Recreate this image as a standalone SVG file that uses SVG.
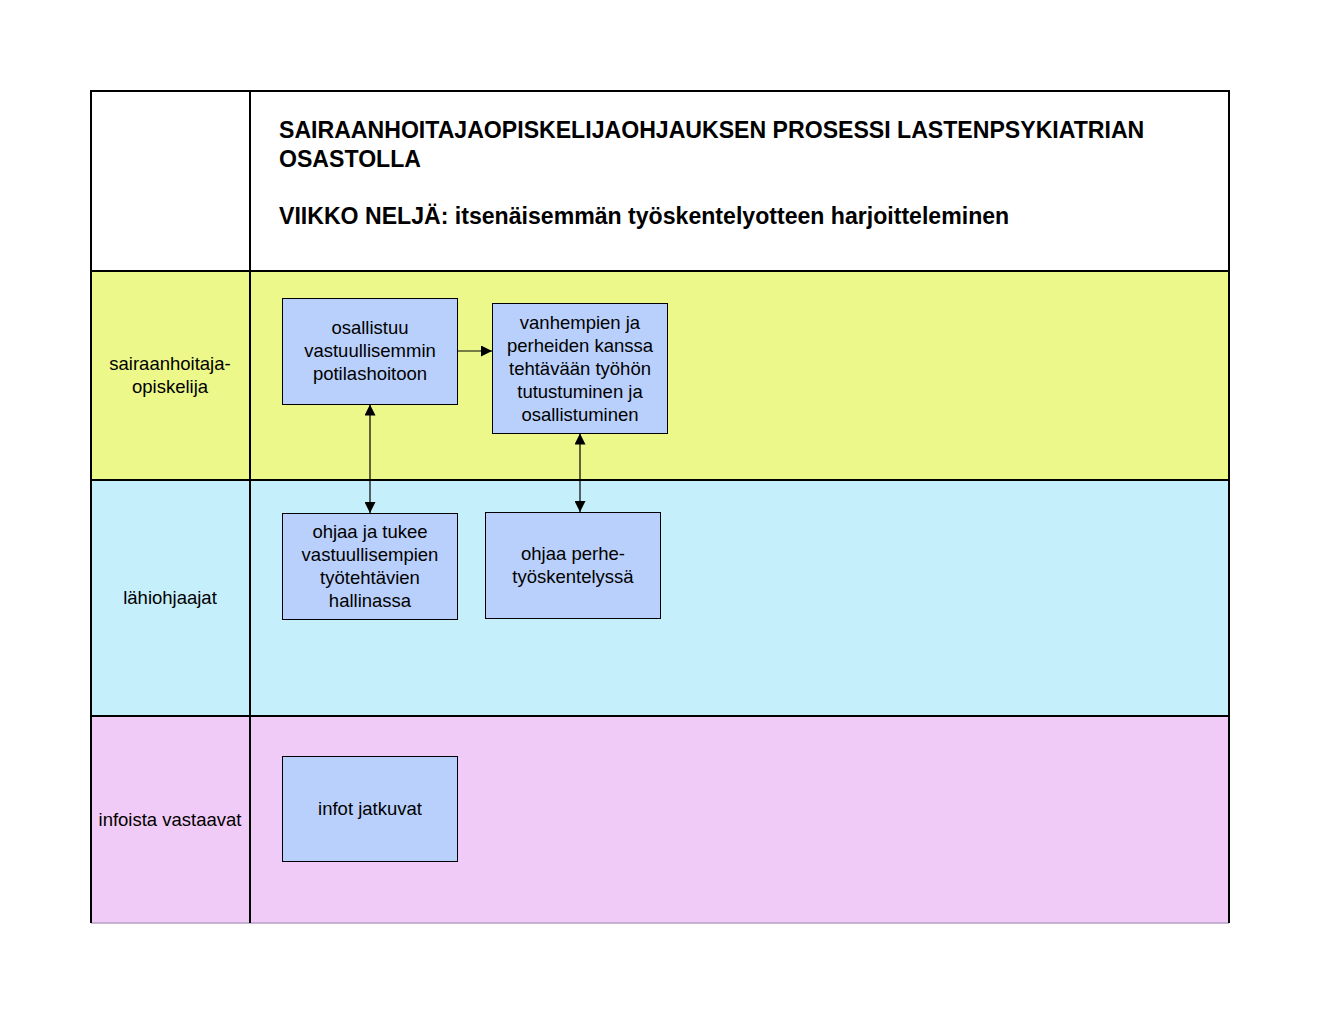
<svg xmlns="http://www.w3.org/2000/svg" width="1320" height="1020" viewBox="0 0 1320 1020">
<defs>
<style>
.t{font-family:"Liberation Sans",Arial,sans-serif;font-size:18.5px;fill:#000;text-anchor:middle}
.h{font-family:"Liberation Sans",Arial,sans-serif;font-size:23.1px;font-weight:bold;fill:#000}
.n{fill:#bad0fc;stroke:#000;stroke-width:1}
.c{stroke:#000;stroke-width:1.2;fill:none}
.g{stroke:#000;stroke-width:2;fill:none}
</style>
<marker id="ah" viewBox="0 0 10 10" refX="10" refY="5" markerWidth="11" markerHeight="11" markerUnits="userSpaceOnUse" orient="auto-start-reverse">
<path d="M0,0 L10,5 L0,10 Z" fill="#000"/>
</marker>
</defs>
<rect width="1320" height="1020" fill="#fff"/>
<g id="lanes">
<rect x="91" y="91" width="1138" height="180" fill="#fff"/>
<rect x="91" y="271" width="1138" height="209" fill="#ecf88a"/>
<rect x="91" y="480" width="1138" height="236" fill="#c5effb"/>
<rect x="91" y="716" width="1138" height="207" fill="#f1cbf7"/>
<line x1="91" y1="923" x2="1229" y2="923" stroke="#b89cc4" stroke-width="1.5"/>
<path class="g" d="M91,923 V91 H1229 V923"/>
<line class="g" x1="250" y1="91" x2="250" y2="923"/>
<line class="g" x1="91" y1="271" x2="1229" y2="271"/>
<line class="g" x1="91" y1="480" x2="1229" y2="480"/>
<line class="g" x1="91" y1="716" x2="1229" y2="716"/>
</g>
<g id="title">
<text class="h" x="279" y="138">SAIRAANHOITAJAOPISKELIJAOHJAUKSEN PROSESSI LASTENPSYKIATRIAN</text>
<text class="h" x="279" y="167">OSASTOLLA</text>
<text class="h" x="279" y="224">VIIKKO NELJÄ: itsenäisemmän työskentelyotteen harjoitteleminen</text>
</g>
<g id="lane-labels">
<text class="t" x="170" y="370">sairaanhoitaja-</text>
<text class="t" x="170" y="393">opiskelija</text>
<text class="t" x="170" y="604">lähiohjaajat</text>
<text class="t" x="170" y="826">infoista vastaavat</text>
</g>
<g id="connectors">
<line class="c" x1="457.5" y1="351" x2="492" y2="351" marker-end="url(#ah)"/>
<line class="c" x1="370" y1="404.5" x2="370" y2="513" marker-start="url(#ah)" marker-end="url(#ah)"/>
<line class="c" x1="580" y1="433.5" x2="580" y2="512" marker-start="url(#ah)" marker-end="url(#ah)"/>
</g>
<g id="nodeA">
<rect class="n" x="282.5" y="298.5" width="175" height="106"/>
<text class="t" x="370" y="334">osallistuu</text>
<text class="t" x="370" y="357">vastuullisemmin</text>
<text class="t" x="370" y="380">potilashoitoon</text>
</g>
<g id="nodeB">
<rect class="n" x="492.5" y="303.5" width="175" height="130"/>
<text class="t" x="580" y="329">vanhempien ja</text>
<text class="t" x="580" y="352">perheiden kanssa</text>
<text class="t" x="580" y="375">tehtävään työhön</text>
<text class="t" x="580" y="398">tutustuminen ja</text>
<text class="t" x="580" y="421">osallistuminen</text>
</g>
<g id="nodeC">
<rect class="n" x="282.5" y="513.5" width="175" height="106"/>
<text class="t" x="370" y="538">ohjaa ja tukee</text>
<text class="t" x="370" y="561">vastuullisempien</text>
<text class="t" x="370" y="584">työtehtävien</text>
<text class="t" x="370" y="607">hallinassa</text>
</g>
<g id="nodeD">
<rect class="n" x="485.5" y="512.5" width="175" height="106"/>
<text class="t" x="573" y="560">ohjaa perhe-</text>
<text class="t" x="573" y="583">työskentelyssä</text>
</g>
<g id="nodeE">
<rect class="n" x="282.5" y="756.5" width="175" height="105"/>
<text class="t" x="370" y="815">infot jatkuvat</text>
</g>
</svg>
